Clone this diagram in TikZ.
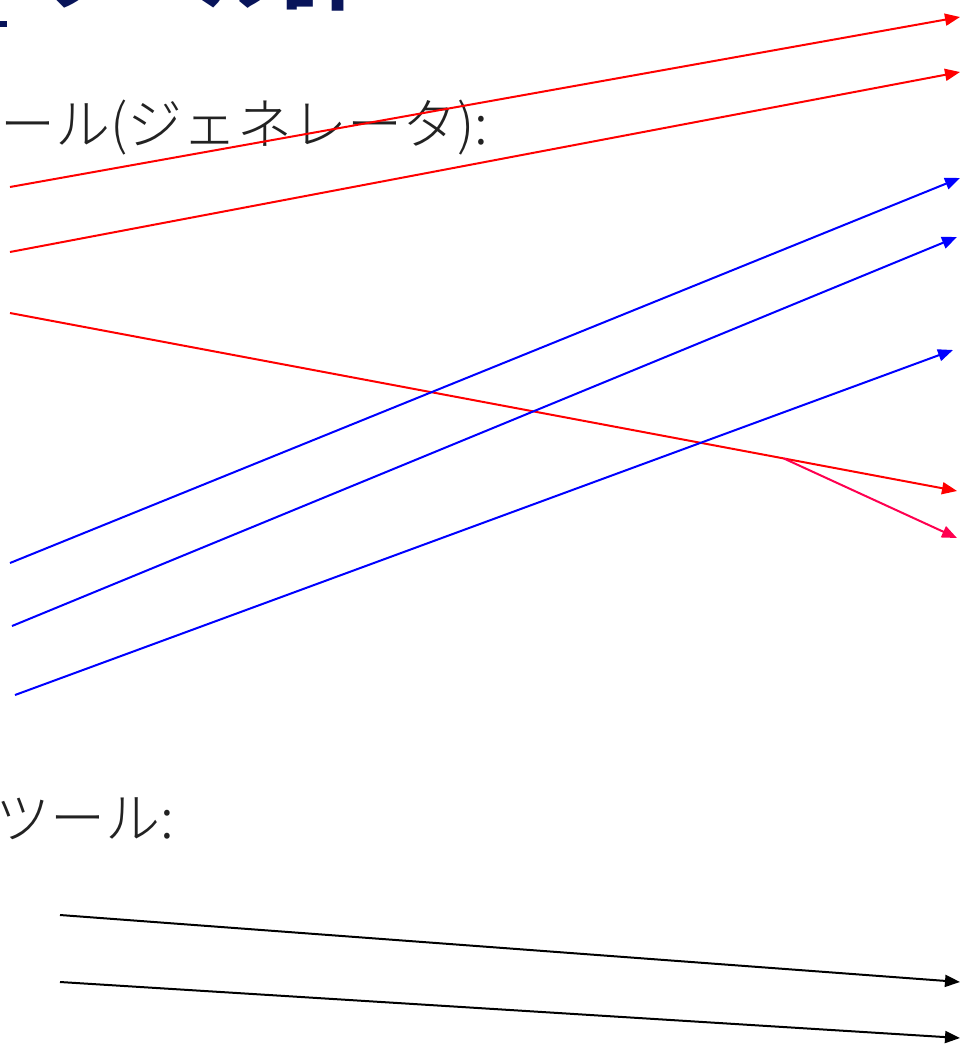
\documentclass[tikz,border=0pt]{standalone}
\usepackage{fontspec}
\newfontfamily\cjk{Noto Sans CJK JP Light}
\newfontfamily\cjktitle{Noto Sans CJK JP}
\usetikzlibrary{arrows.meta,calc}
\definecolor{navy}{RGB}{8,20,90}
\definecolor{bodygray}{RGB}{34,34,34}
\definecolor{crim}{RGB}{255,0,80}
\begin{document}
\begin{tikzpicture}[x=1pt,y=-1pt,
  conn/.style={line width=2pt,-{Triangle[length=15pt,width=12pt]}},
  bodytext/.style={font=\cjk\fontsize{55}{60}\selectfont,text=bodygray,inner sep=0pt,anchor=base west},
  titletext/.style={font=\cjktitle\bfseries\fontsize{82}{90}\selectfont,text=navy,inner sep=0pt,anchor=base west}]
\useasboundingbox (0,0) rectangle (961,1052);
\clip (0,0) rectangle (961,1052);
\fill[white] (0,0) rectangle (961,1052);
% title (cut off at top)
\node[titletext] (title) at (35,3) {ツール評};
\fill[navy] (0,21) rectangle (7,27);
% section labels
\node[bodytext] (gen) at (0,144) {ール(ジェネレータ):};
\node[bodytext] (tool) at (-5,838) {ツール:};
% coordinates
\coordinate (r1s) at (10,187);  \coordinate (r1e) at (960,17);
\coordinate (r2s) at (10,252);  \coordinate (r2e) at (960,72);
\coordinate (r3s) at (10,313);  \coordinate (r3e) at (957,491);
\coordinate (br) at ($(r3s)!0.817!(r3e)$);
\coordinate (r4e) at (957,538);
\coordinate (b1s) at (10,563);  \coordinate (b1e) at (960,178);
\coordinate (b2s) at (12,626);  \coordinate (b2e) at (957,237);
\coordinate (b3s) at (15,695);  \coordinate (b3e) at (953,350);
\coordinate (k1s) at (60,915);  \coordinate (k1e) at (960,982);
\coordinate (k2s) at (60,982);  \coordinate (k2e) at (960,1038);
% connectors
\draw[conn,red] (r1s) -- (r1e);
\draw[conn,red] (r2s) -- (r2e);
\draw[conn,red] (r3s) -- (r3e);
\draw[conn,crim] (br) -- (r4e);
\draw[conn,blue] (b1s) -- (b1e);
\draw[conn,blue] (b2s) -- (b2e);
\draw[conn,blue] (b3s) -- (b3e);
\draw[conn,black] (k1s) -- (k1e);
\draw[conn,black] (k2s) -- (k2e);
\end{tikzpicture}
\end{document}
